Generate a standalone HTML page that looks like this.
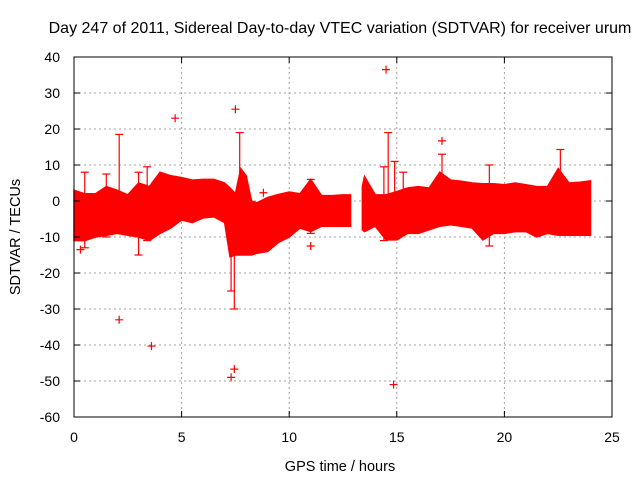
<!DOCTYPE html>
<html><head><meta charset="utf-8"><style>
body{margin:0;background:#fff}
svg{display:block;font-family:"Liberation Sans",sans-serif}
</style></head><body>
<svg id="chart" width="640" height="480" viewBox="0 0 640 480">
<text x="340" y="33" font-size="16" text-anchor="middle">Day 247 of 2011, Sidereal Day-to-day VTEC variation (SDTVAR) for receiver urum</text>
<text transform="translate(20,237) rotate(-90)" font-size="14.5" text-anchor="middle">SDTVAR / TECUs</text>
<text x="340" y="471" font-size="14.5" text-anchor="middle">GPS time / hours</text>
<g id="grid"></g>
<g id="marks"></g>
<rect x="74" y="57" width="538" height="360" fill="none" stroke="#000" stroke-width="1"/>
<g id="ticks"></g>
</svg>
<script>
const xTicks=[0,5,10,15,20,25];
const yTicks=[40,30,20,10,0,-10,-20,-30,-40,-50,-60];
const times=[0,0.5,1,1.5,2,2.5,3,3.5,4,4.5,5,5.5,6,6.5,7,7.25,7.5,7.75,8,8.25,8.5,9,9.5,10,10.5,11,11.5,12,12.5,12.85,13.4,13.5,14,14.5,15,15.5,16,16.5,17,17.5,18,18.5,19,19.5,20,20.5,21,21.5,22,22.5,23,23.5,24];
const upper=[3,2,2,4,3,1.7,5,4,8,7,6.5,5.8,6,6,5,3.6,2,9,7,0,-0.5,1,1.8,2.5,2,6,1.5,1.5,1.7,1.7,4,6.8,1.7,1.7,2.6,3.6,4,3.6,8,5.8,5.5,5,4.8,4.8,4.5,5,4.5,4,4,9,5,5.2,5.6];
const lower=[-11,-11,-10,-9.5,-9,-9.5,-10,-11,-9,-7.5,-5.3,-6,-4.7,-4.4,-6,-15.5,-15,-15,-15,-15,-14.5,-14,-11.5,-10,-7.5,-8.5,-7,-7,-7,-7,-8,-8.5,-7,-10.8,-10.8,-9,-9,-8,-7,-6.6,-7,-7.5,-10.8,-9,-9,-8.5,-8.5,-10,-9,-9.5,-9.5,-9.5,-9.5];
const gapAfter=12.85;
const spikeT=[0.5,1.5,2.1,3,3.4,7.3,7.45,7.7,11,14.4,14.6,14.9,15.3,17.1,19.3,22.6];
const spikeHi=[8,7.5,18.5,8,9.5,-2,-5,19,6,9.5,19,11,8,13,10,14.3];
const spikeLo=[-13,-10,-1,-15,-11,-25,-30,0,-9,-11,0,-10,-9,0,-12.5,0];
const outT=[2.1,3.6,4.7,7.5,7.3,7.45,14.5,14.85,11,17.1,8.8,0.3,1.9];
const outV=[-33,-40.3,23,25.5,-49,-46.7,36.5,-51,-12.5,16.7,2.3,-13.5,-5];
const X=t=>74+t*538/25, Y=v=>57+(40-v)*3.6;
const NS='http://www.w3.org/2000/svg';
function mk(tag,attrs,parent){const e=document.createElementNS(NS,tag);for(const k in attrs)e.setAttribute(k,attrs[k]);parent.appendChild(e);return e;}
const grid=document.getElementById('grid'),marks=document.getElementById('marks'),ticks=document.getElementById('ticks');
xTicks.forEach(t=>{
 if(t>0&&t<25){const g=mk('line',{x1:X(t),x2:X(t),y1:57,y2:417,stroke:'#a0a0a0','stroke-dasharray':'2,3'},grid);
 
 }
 const l=mk('line',{x1:X(t),x2:X(t),y1:417,y2:411,stroke:'#000'},ticks);
 
 
 const l2=mk('line',{x1:X(t),x2:X(t),y1:57,y2:63,stroke:'#000'},ticks);
 
 
 const tx=mk('text',{x:X(t),y:442,'font-size':14,'text-anchor':'middle'},ticks);tx.textContent=t;
 
 
});
yTicks.forEach(v=>{
 if(v<40&&v>-60){const g=mk('line',{x1:74,x2:612,y1:Y(v),y2:Y(v),stroke:'#a0a0a0','stroke-dasharray':'2,3'},grid);
 
 }
 const l=mk('line',{x1:74,x2:80,y1:Y(v),y2:Y(v),stroke:'#000'},ticks);
 
 
 const l2=mk('line',{x1:606,x2:612,y1:Y(v),y2:Y(v),stroke:'#000'},ticks);
 
 
 const tx=mk('text',{x:60,y:Y(v)+5,'font-size':14,'text-anchor':'end'},ticks);tx.textContent=v;
 
 
});
const segs=[[]];
times.forEach((t,i)=>{segs[segs.length-1].push(i);if(t===gapAfter)segs.push([]);});
segs.forEach(idx=>{
 const top=idx.map(i=>X(times[i])+','+Y(upper[i]));
 const bot=idx.slice().reverse().map(i=>X(times[i])+','+Y(lower[i]));
 const p=mk('polygon',{points:top.concat(bot).join(' '),fill:'#ff0000',stroke:'#ff0000','stroke-width':1.5},marks);
 
 
});
spikeT.forEach((t,i)=>{
 const l=mk('line',{x1:X(t),x2:X(t),y1:Y(spikeHi[i]),y2:Y(spikeLo[i]),stroke:'#ff0000','stroke-width':1.2},marks);
 
 
 [spikeHi[i],spikeLo[i]].forEach(v=>{const c=mk('line',{x1:X(t)-4,x2:X(t)+4,y1:Y(v),y2:Y(v),stroke:'#ff0000','stroke-width':1.2},marks);
 
 });
});
outT.forEach((t,i)=>{
 const p=mk('path',{d:`M${X(t)-4},${Y(outV[i])}h8M${X(t)},${Y(outV[i])-4}v8`,stroke:'#ff0000','stroke-width':1.2,fill:'none'},marks);
 
 
});
</script>
</body></html>
